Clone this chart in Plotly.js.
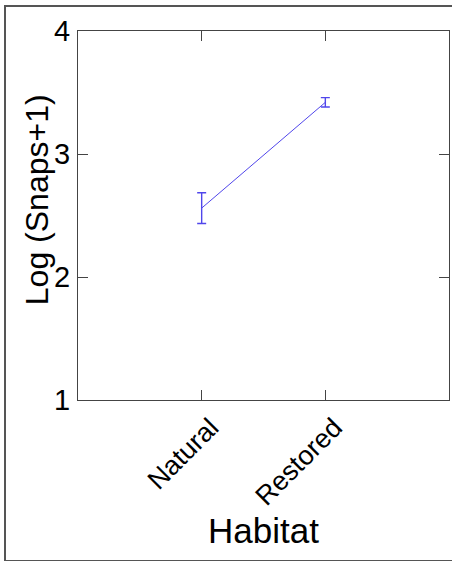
<!DOCTYPE html>
<html>
<head>
<meta charset="utf-8">
<script src="https://cdn.plot.ly/plotly-3.0.1.min.js"></script>
<style>
  html, body { margin: 0; padding: 0; background: #fff; }
  #wrap { position: relative; width: 452px; height: 561px; overflow: hidden; }
  #chart { position: absolute; left: 0; top: 0; width: 452px; height: 561px; }
  #frame { position: absolute; left: 4px; top: 5px; width: 460px; height: 553px;
           border: 2px solid #555; border-right: none; pointer-events: none; }
</style>
</head>
<body>
<div id="wrap">
  <div id="chart"></div>
  <div id="frame"></div>
</div>
<script>
// Data
const categories = ['Natural', 'Restored'];
const meanValues = [2.56, 3.42];
const errPlus = [0.125, 0.038];
const errMinus = [0.125, 0.038];
const yTickValues = [1, 2, 3, 4];
const yTickLabels = ['1', '2', '3', '4'];

const lineColor = 'rgb(80,70,235)';
const font = 'Liberation Sans, Arial, Helvetica, sans-serif';

const trace = {
  type: 'scatter',
  mode: 'lines',
  x: categories,
  y: meanValues,
  line: { color: lineColor, width: 1 },
  error_y: {
    type: 'data', symmetric: false,
    array: errPlus, arrayminus: errMinus,
    color: lineColor, thickness: 1.4, width: 4.5, visible: true
  },
  hoverinfo: 'skip'
};

const axisCommon = {
  showline: true, linecolor: '#444', linewidth: 1,
  mirror: 'ticks', ticks: 'inside', ticklen: 10, tickcolor: '#444', tickwidth: 1,
  showgrid: false, zeroline: false
};

const layout = {
  width: 452, height: 561,
  margin: { l: 78, r: 3, t: 31, b: 161 },
  paper_bgcolor: '#fff', plot_bgcolor: '#fff',
  showlegend: false,
  font: { family: font, color: '#000' },
  xaxis: Object.assign({}, axisCommon, {
    type: 'category',
    range: [-1, 2],
    tickangle: -45,
    tickfont: { family: font, size: 27, color: '#000' },
    ticklabelstandoff: 0,
    ticklabelshift: 9
  }),
  yaxis: Object.assign({}, axisCommon, {
    range: [1, 4],
    tickmode: 'array',
    tickvals: yTickValues,
    ticktext: yTickLabels,
    tickfont: { family: font, size: 29, color: '#000' },
    ticklabelstandoff: 1
  }),
  annotations: [
    {
      text: 'Log (Snaps+1)', xref: 'paper', yref: 'paper',
      x: -0.11, y: 0.542, xanchor: 'center', yanchor: 'middle',
      textangle: -90, showarrow: false,
      font: { family: font, size: 32, color: '#000' }
    },
    {
      text: 'Habitat', xref: 'paper', yref: 'paper',
      x: 0.5, y: -0.353, xanchor: 'center', yanchor: 'middle',
      showarrow: false,
      font: { family: font, size: 35, color: '#000' }
    }
  ]
};

Plotly.newPlot('chart', [trace], layout, { displayModeBar: false, staticPlot: true });
</script>
</body>
</html>
